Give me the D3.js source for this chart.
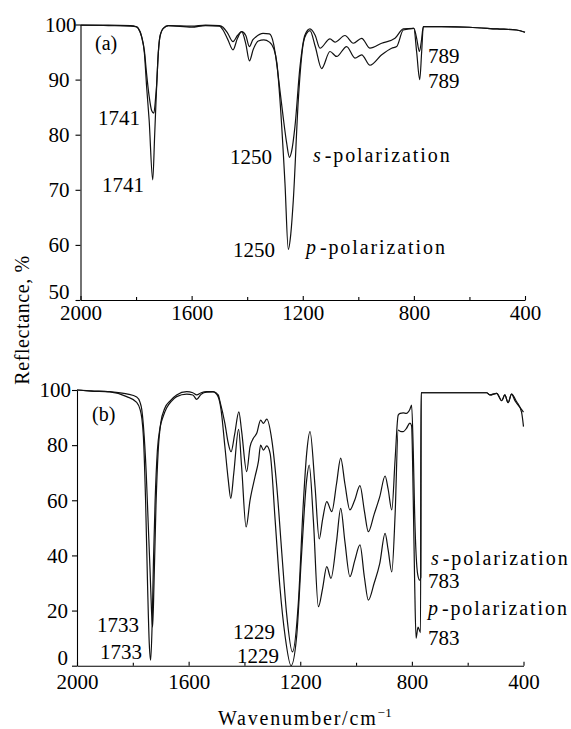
<!DOCTYPE html>
<html>
<head>
<meta charset="utf-8">
<script src="https://cdn.jsdelivr.net/npm/d3@7"></script>
<style>
  body { margin: 0; background: #fff; }
</style>
</head>
<body>
<svg id="chart" width="571" height="729" font-family="Liberation Serif"></svg>
<script>
// tick values
const xTicks = [2000, 1600, 1200, 800, 400]
const xMinorTicks = [1800, 1400, 1000, 600]
const yTicksA = [50, 60, 70, 80, 90, 100]
const yTicksB = [0, 20, 40, 60, 80, 100]

// panel (a): [wavenumber, reflectance %]
const specA_s = [
  [2000, 99.9], [1900, 99.9], [1820, 99.8], [1800, 99.6], [1792, 99.3], [1780, 97.8], [1770, 95.2],
  [1762, 91], [1753, 87], [1744, 84.4], [1736, 83.9], [1730, 86.5], [1726, 89], [1720, 94.8],
  [1714, 97.8], [1702, 99.3], [1684, 99.8], [1600, 99.7], [1550, 99.9], [1500, 99.8], [1487, 99.5],
  [1470, 98.4], [1451, 96.9], [1435, 98], [1420, 98.7], [1405, 98], [1392, 96], [1380, 97.2],
  [1370, 97.7], [1343, 98.4], [1320, 98.3], [1305, 96.5], [1294, 93], [1282, 88], [1270, 83],
  [1258, 78.5], [1248, 75.9], [1240, 77], [1228, 81.5], [1210, 92.3], [1192, 98.1], [1174, 99.2],
  [1155, 98], [1138, 95.7], [1102, 97.4], [1084, 96.8], [1048, 98], [1018, 96.6], [988, 97.5],
  [958, 95.7], [916, 96.6], [868, 97.5], [838, 99.2], [800, 99.3], [790, 97.5], [780, 95.1],
  [773, 97], [766, 99.6], [700, 99.6], [600, 99.5], [500, 99.2], [430, 99], [400, 98.6]
]
const specA_p = [
  [2000, 99.9], [1900, 99.8], [1820, 99.7], [1800, 99.6], [1792, 99.3], [1780, 97.8], [1770, 94.8],
  [1762, 88.7], [1753, 82.7], [1740, 71.8], [1733, 80], [1726, 88.7], [1720, 94.8], [1714, 97.8],
  [1702, 99.3], [1684, 99.8], [1600, 99.5], [1550, 99.8], [1500, 99.7], [1487, 99], [1470, 97.3],
  [1451, 95.4], [1435, 97.5], [1420, 98.7], [1405, 96.5], [1392, 93.4], [1378, 95.5], [1360, 97],
  [1340, 97.2], [1320, 96.8], [1305, 95.7], [1293, 93], [1282, 86.3], [1264, 71.2], [1252, 59.2],
  [1243, 62], [1234, 68.1], [1216, 86.3], [1198, 96.6], [1186, 98.4], [1174, 98.9], [1155, 96],
  [1132, 92], [1102, 95.1], [1078, 94.2], [1042, 96], [1012, 93.9], [988, 94.5], [958, 92.6],
  [916, 94.5], [880, 95.7], [862, 96], [838, 99], [800, 99.3], [790, 95], [779, 90], [772, 95],
  [766, 99.6], [700, 99.6], [600, 99.5], [500, 99.2], [430, 99], [400, 98.6]
]

// panel (b)
const specB_s = [
  [2000, 100], [1950, 99.7], [1882, 99.4], [1822, 98.6], [1786, 97.5], [1774, 95.5], [1768, 93],
  [1762, 87], [1752, 70], [1745, 52], [1738, 34], [1733, 20], [1729, 14], [1724, 30], [1717, 58],
  [1709, 78], [1700, 88], [1685, 93.5], [1667, 96], [1643, 98.2], [1607, 99.4], [1585, 99],
  [1571, 98.2], [1555, 99], [1535, 99.4], [1512, 99.4], [1494, 98.2], [1488, 96], [1470, 87.9],
  [1458, 80.7], [1448, 77.6], [1435, 84], [1420, 92.1], [1410, 85], [1392, 70.4], [1380, 79.4],
  [1368, 82.5], [1356, 84.3], [1342, 89.1], [1332, 87.9], [1320, 89.4], [1302, 81.9], [1284, 64.9],
  [1266, 40.8], [1249, 19], [1228, 5], [1207, 22.6], [1189, 58.9], [1177, 77], [1165, 84.9],
  [1147, 65], [1132, 46], [1120, 53], [1105, 59.5], [1087, 55.9], [1070, 66], [1055, 75.3],
  [1040, 66], [1022, 56.5], [1005, 60], [986, 65.3], [970, 56], [956, 48.6], [935, 55], [915, 61.3],
  [896, 68.8], [885, 64], [872, 56.5], [860, 75], [849, 90.9], [842, 91.5], [831, 91.7], [820, 91.5],
  [807, 93], [801, 94.5], [795, 78], [790, 55], [779, 33], [772, 31], [768, 32], [767, 99],
  [700, 99], [600, 99], [532, 99], [520, 98.2], [496, 98.8], [478, 96.1], [467, 98.2], [455, 95.4],
  [443, 98.5], [430, 96], [415, 94], [400, 92]
]
const specB_p = [
  [2000, 100], [1950, 99.6], [1882, 99.3], [1822, 97.6], [1786, 95.5], [1774, 93], [1768, 90],
  [1762, 83], [1754, 59], [1747, 28.7], [1741, 8], [1736, 2], [1731, 14], [1726, 38], [1720, 60],
  [1712, 78], [1703, 86], [1691, 90.5], [1679, 93.5], [1661, 96], [1643, 97.6], [1607, 98.5],
  [1585, 98.2], [1571, 96.6], [1555, 98.5], [1535, 99.2], [1512, 99.3], [1494, 97.5], [1484, 93],
  [1470, 79.4], [1458, 67.4], [1449, 60.7], [1438, 70], [1421, 85.7], [1410, 72], [1394, 50.3],
  [1380, 60], [1362, 68.6], [1350, 74], [1342, 80], [1332, 78.2], [1320, 79.7], [1308, 77],
  [1290, 52.8], [1273, 28.7], [1254, 10.5], [1233, 0], [1213, 10.5], [1195, 40.8], [1177, 67.4],
  [1168, 72.8], [1153, 52.8], [1135, 21.4], [1120, 28], [1105, 35.9], [1090, 31.7], [1070, 45],
  [1055, 57.1], [1040, 45], [1022, 32.3], [1005, 38], [986, 43.8], [970, 32], [956, 23.8], [935, 30],
  [915, 37.1], [896, 48], [885, 42], [872, 34], [860, 55], [849, 85.5], [842, 85], [831, 84.9],
  [820, 86], [807, 88], [801, 87], [795, 60], [790, 30], [785, 10], [778, 14], [769, 12], [767, 99],
  [700, 99], [600, 99], [532, 99], [520, 98.2], [496, 98.8], [478, 96.1], [467, 98.2], [455, 95.4],
  [443, 98.5], [425, 95.8], [407, 92], [400, 86.7]
]

const svg = d3.select('#chart')

// one panel: axes + both spectra
function drawPanel(cfg) {
  const x = d3.scaleLinear().domain([2000, 400]).range(cfg.xRange)
  const y = d3.scaleLinear().domain(cfg.yDomain).range(cfg.yRange)
  const g = svg.append('g')

  const yAxis = g.append('g')
      .attr('transform', 'translate(' + cfg.xRange[0] + ',0)')
      .call(d3.axisLeft(y).tickValues(cfg.yTicks).tickSize(5).tickSizeOuter(0).tickPadding(cfg.yPad))
  yAxis.selectAll('text')
      .attr('dx', (d) => d === 100 ? cfg.dx100 : 0)
      .attr('dy', (d) => d === cfg.yDomain[0] ? '-0.05em' : '0.32em')

  g.append('g')
      .attr('transform', 'translate(0,' + cfg.yRange[0] + ')')
      .call(d3.axisBottom(x).tickValues(xTicks).tickSize(-4).tickSizeOuter(0)
        .tickPadding(cfg.xPad).tickFormat(d3.format('d')))
  g.append('g')
      .attr('transform', 'translate(0,' + cfg.yRange[0] + ')')
      .call(d3.axisBottom(x).tickValues(xMinorTicks).tickSize(-3).tickFormat(''))
      .select('.domain').remove()

  // drop the sans-serif the axis puts on its groups, so the svg font applies
  g.selectAll('g').attr('font-family', null).attr('font-size', null)
  g.selectAll('.tick text').attr('font-size', 21).attr('fill', '#000')
  g.selectAll('path.domain, .tick line').attr('stroke', '#000').attr('stroke-width', 1.1)

  const line = d3.line()
      .x((d) => x(d[0]))
      .y((d) => y(d[1]))
      .curve(d3.curveMonotoneX)

  cfg.series.forEach((s) => {
    g.append('path')
        .datum(s)
        .attr('fill', 'none')
        .attr('stroke', '#111')
        .attr('stroke-width', 1.2)
        .attr('d', line)
  })

  cfg.notes.forEach((n) => {
    const t = g.append('text')
        .attr('x', n[1])
        .attr('y', n[2])
        .attr('font-size', n[3] || 21)
    if (n[0].indexOf('-polarization') > 0) {
      t.attr('letter-spacing', 1.9)
      t.append('tspan').attr('font-style', 'italic').text(n[0][0])
      t.append('tspan').attr('dx', 2).text('-polarization')
    } else {
      t.text(n[0])
    }
  })
}

drawPanel({
  xRange: [80.5, 525],
  yDomain: [50, 100],
  yRange: [300, 24.5],
  yTicks: yTicksA,
  yPad: 6,
  dx100: 7,
  xPad: 5,
  series: [specA_s, specA_p],
  notes: [
    ['(a)', 95, 50, 20],
    ['1741', 98, 125], ['1741', 102, 192],
    ['1250', 230, 164], ['1250', 233, 257],
    ['s-polarization', 313, 162, 20], ['p-polarization', 306, 254, 20],
    ['789', 428, 63], ['789', 428, 88]
  ]
})

drawPanel({
  xRange: [77, 523.5],
  yDomain: [0, 100],
  yRange: [665.7, 390],
  yTicks: yTicksB,
  yPad: 4,
  dx100: 3,
  xPad: 8,
  series: [specB_s, specB_p],
  notes: [
    ['(b)', 92, 421, 20],
    ['1733', 97, 632], ['1733', 100, 659],
    ['1229', 233, 639], ['1229', 237, 663],
    ['s-polarization', 431, 565, 20], ['783', 428, 588],
    ['p-polarization', 428, 615, 20], ['783', 428, 645]
  ]
})

// axis titles
svg.append('text')
    .attr('transform', 'translate(29,320) rotate(-90)')
    .attr('text-anchor', 'middle')
    .attr('font-size', 20)
    .attr('letter-spacing', 0.6)
    .text('Reflectance, %')

const xt = svg.append('text')
    .attr('x', 218)
    .attr('y', 725)
    .attr('font-size', 20)
    .attr('letter-spacing', 1.8)
xt.append('tspan').text('Wavenumber/cm')
xt.append('tspan').attr('dy', -8).attr('font-size', 13).attr('letter-spacing', 0.5).text('−1')
</script>
</body>
</html>
